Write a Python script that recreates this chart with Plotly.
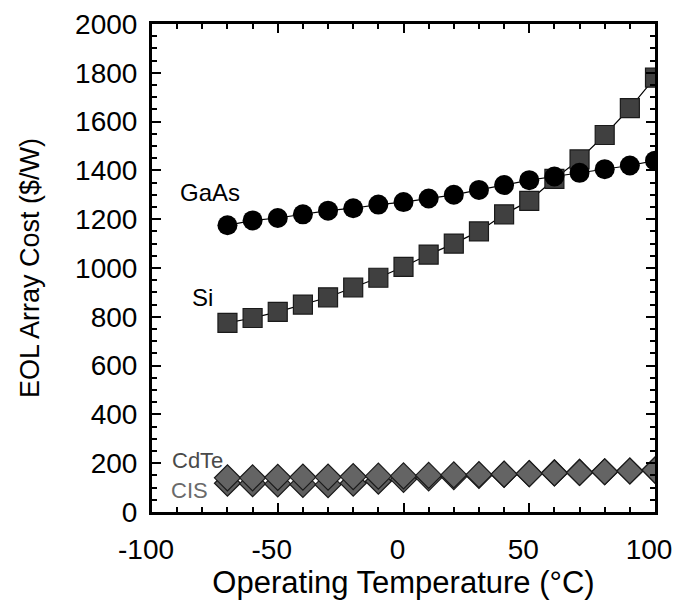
import plotly.graph_objects as go

temps = [-70, -60, -50, -40, -30, -20, -10, 0, 10, 20, 30, 40, 50, 60, 70, 80, 90, 100]
gaas = [1175, 1195, 1205, 1220, 1235, 1245, 1260, 1270, 1285, 1300, 1320, 1340, 1360, 1375, 1390, 1405, 1420, 1440]
si = [775, 795, 820, 850, 880, 920, 960, 1005, 1055, 1100, 1150, 1220, 1275, 1365, 1445, 1545, 1655, 1780]
cdte = [140, 140, 142, 143, 143, 145, 147, 148, 150, 152, 153, 155, 157, 160, 162, 165, 168, 172]
cis = [118, 116, 115, 113, 112, 118, 126, 134, 140, 145, 150, 154, 157, 160, 162, 165, 168, 172]

xticks = [-100, -50, 0, 50, 100]
yticks = [0, 200, 400, 600, 800, 1000, 1200, 1400, 1600, 1800, 2000]

font = "Liberation Sans, Arial, Helvetica, sans-serif"

fig = go.Figure()
fig.add_trace(go.Scatter(x=temps, y=cis, mode="lines+markers", name="CIS",
                         line=dict(color="black", width=1.2),
                         marker=dict(symbol="diamond", size=20, color="#5e5e5e",
                                     line=dict(color="#1a1a1a", width=1.2))))
fig.add_trace(go.Scatter(x=temps, y=cdte, mode="lines+markers", name="CdTe",
                         line=dict(color="black", width=1.2),
                         marker=dict(symbol="diamond", size=20, color="#646464",
                                     line=dict(color="#1a1a1a", width=1.2))))
fig.add_trace(go.Scatter(x=temps, y=si, mode="lines+markers", name="Si",
                         line=dict(color="black", width=1.2),
                         marker=dict(symbol="square", size=19, color="#404040",
                                     line=dict(color="#1a1a1a", width=1.2))))
fig.add_trace(go.Scatter(x=temps, y=gaas, mode="lines+markers", name="GaAs",
                         line=dict(color="black", width=1.2),
                         marker=dict(symbol="circle", size=20, color="black")))

labels = [("GaAs", -77, 1311, "black", 24), ("Si", -80, 881, "black", 24),
          ("CdTe", -82, 213, "#4a4a4a", 22), ("CIS", -85, 90, "#6a6a6a", 22)]
for txt, x, y, c, s in labels:
    fig.add_annotation(x=x, y=y, text=txt, showarrow=False, xanchor="center",
                       font=dict(family=font, size=s, color=c))

axis_common = dict(showline=True, linecolor="black", linewidth=3, mirror="allticks",
                   ticks="inside", ticklen=9, tickwidth=2, tickcolor="black",
                   showgrid=False, zeroline=False, automargin=False,
                   tickfont=dict(family=font, size=28, color="black"))

fig.update_xaxes(range=[-100, 100], tickvals=xticks, ticktext=[str(v) for v in xticks],
                 ticklabelstandoff=10, ticklabelshift=-6,
                 minor=dict(dtick=10, ticks="inside", ticklen=5, tickwidth=2, tickcolor="black"),
                 title=dict(text="Operating Temperature (°C)", font=dict(family=font, size=31, color="black"), standoff=2),
                 **axis_common)
fig.update_yaxes(range=[0, 2000], tickvals=yticks, ticktext=[str(v) for v in yticks],
                 ticklabelstandoff=6,
                 minor=dict(dtick=50, ticks="inside", ticklen=5, tickwidth=2, tickcolor="black"),
                 title=dict(text="EOL Array Cost ($/W)", font=dict(family=font, size=27, color="black"), standoff=28),
                 **axis_common)

fig.update_layout(width=681, height=603, showlegend=False,
                  plot_bgcolor="white", paper_bgcolor="white",
                  margin=dict(l=144, r=34, t=16, b=99))

fig.write_html("out.html")
